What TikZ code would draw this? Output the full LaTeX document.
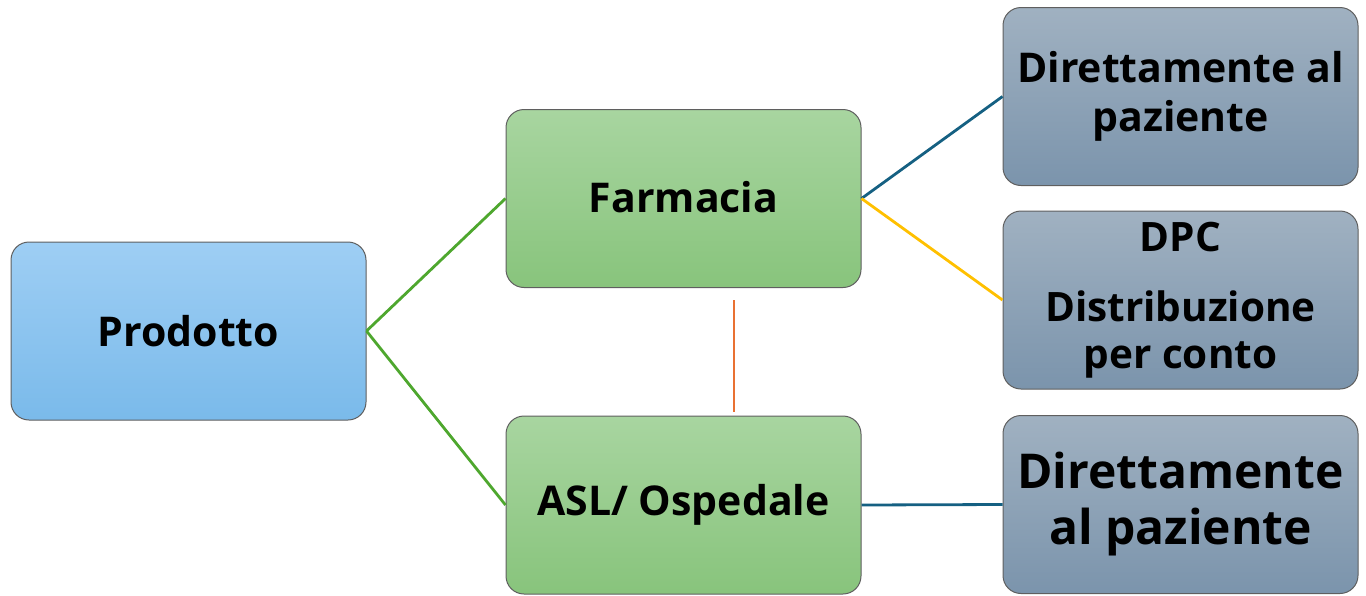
\documentclass[tikz,border=0pt]{standalone}
\usepackage{fontspec}
\setmainfont{Open Sans}
\definecolor{blueT}{RGB}{158,206,244}
\definecolor{blueB}{RGB}{122,186,234}
\definecolor{greenT}{RGB}{168,213,160}
\definecolor{greenB}{RGB}{136,196,124}
\definecolor{grayT}{RGB}{160,177,193}
\definecolor{grayB}{RGB}{123,148,172}
\definecolor{boxline}{RGB}{95,95,95}
\definecolor{lgreen}{RGB}{78,167,46}
\definecolor{lblue}{RGB}{21,96,130}
\definecolor{lyellow}{RGB}{255,192,0}
\definecolor{lorange}{RGB}{233,113,50}
\tikzset{
  box/.style={draw=boxline, line width=1pt, rounded corners=18pt,
    minimum width=355pt, minimum height=178pt, inner sep=0pt,
    align=center, text=black, font=\bfseries\fontsize{41}{49}\selectfont},
  bluebox/.style={box, top color=blueT, bottom color=blueB},
  greenbox/.style={box, top color=greenT, bottom color=greenB},
  graybox/.style={box, top color=grayT, bottom color=grayB},
  conn/.style={line width=2.8pt}
}
\begin{document}
\begin{tikzpicture}[x=1pt,y=-1pt]
\useasboundingbox (0,0) rectangle (1366,595);
\node[bluebox] (prod) at (188.5,331) {Prodotto};
\node[greenbox] (farm) at (683.5,198.5) {\raisebox{3pt}{Farmacia}};
\node[greenbox] (asl) at (683.5,505) {ASL/ Ospedale};
\node[graybox] (dir1) at (1180.5,96.5) {Direttamente al\\paziente};
\node[graybox, font=\bfseries\fontsize{40.5}{47}\selectfont] (dpc) at (1180.5,300) {DPC\\[23pt]Distribuzione\\per conto};
\node[graybox, font=\bfseries\fontsize{48}{56}\selectfont] (dir2) at (1180.5,504.5) {Direttamente\\al paziente};
\draw[conn, lgreen] (prod.east) -- (farm.west);
\draw[conn, lgreen] (prod.east) -- (asl.west);
\draw[conn, lblue] (farm.east) -- (dir1.west);
\draw[conn, lyellow] (farm.east) -- (dpc.west);
\draw[conn, lblue] (asl.east) -- (dir2.west);
\draw[line width=2pt, lorange, shorten <=12pt, shorten >=4pt] ([xshift=50.5pt]farm.south) -- ([xshift=50.5pt]asl.north);
\end{tikzpicture}
\end{document}
